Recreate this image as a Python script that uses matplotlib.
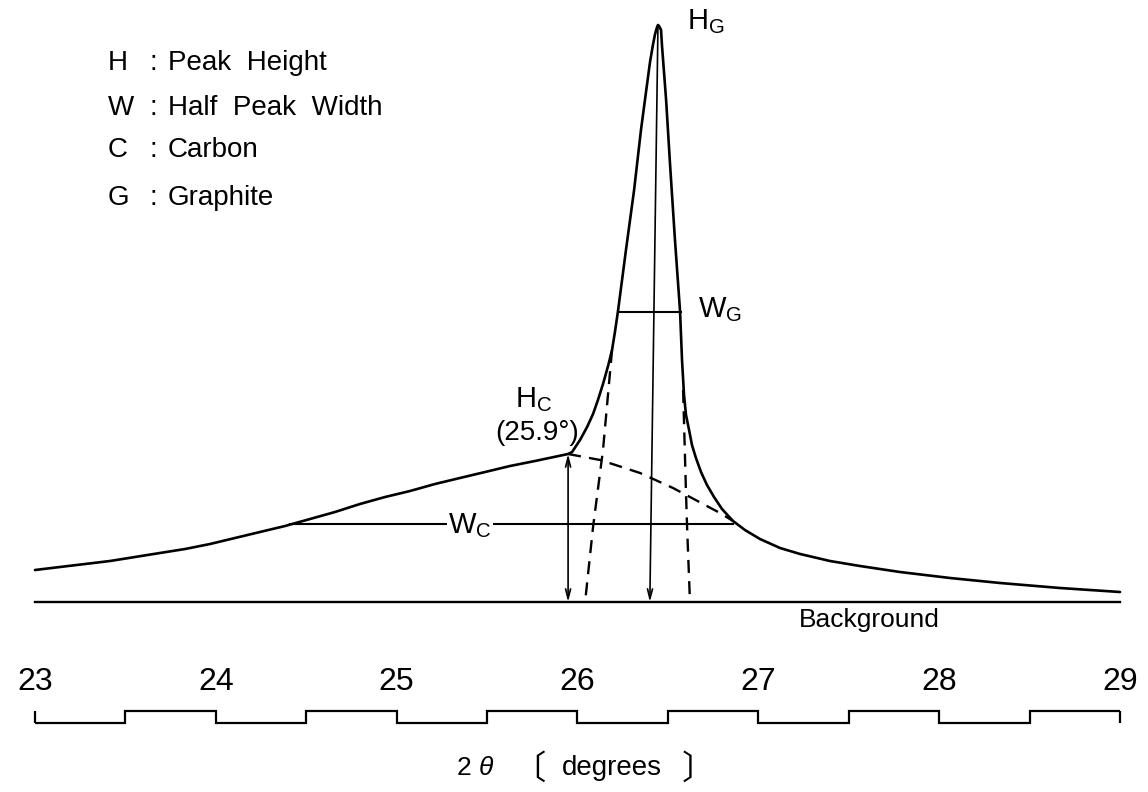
import matplotlib
matplotlib.use("Agg")

import matplotlib.pyplot as plt

plt.rcParams["font.family"] = ["Liberation Sans", "Noto Sans CJK JP", "DejaVu Sans"]
plt.rcParams["mathtext.fontset"] = "custom"
plt.rcParams["mathtext.rm"] = "Liberation Sans"

# measured diffraction profile: 2theta (deg) vs intensity (arb. units, background = 0)
profile_2theta = [23.000, 23.138, 23.277, 23.415, 23.553, 23.691, 23.830, 23.968,
                  24.106, 24.244, 24.383, 24.521, 24.659, 24.797, 24.936, 25.074,
                  25.212, 25.350, 25.489, 25.627, 25.765, 25.948,
                  25.970, 25.992, 26.014, 26.053, 26.086, 26.113, 26.141, 26.169,
                  26.191, 26.207, 26.224, 26.268, 26.313, 26.351, 26.373, 26.401,
                  26.418, 26.429, 26.440, 26.445, 26.451, 26.462, 26.467, 26.490,
                  26.512, 26.539, 26.567, 26.578, 26.589, 26.600, 26.617, 26.633,
                  26.655, 26.683, 26.716, 26.755, 26.799, 26.860, 26.926, 27.009,
                  27.120, 27.231, 27.396, 27.562, 27.783, 28.060, 28.337, 28.668,
                  29.000]
profile_int = [32, 35, 38, 41, 45, 49, 53, 58,
               64, 70, 76, 83, 90, 98, 105, 111,
               118, 124, 130, 136, 141, 148,
               150, 156, 162, 175, 188, 202, 218, 236,
               252, 270, 291, 352, 412, 472, 502, 540,
               558, 568, 575, 577, 576, 572, 557, 502,
               437, 362, 291, 242, 207, 187, 172, 157,
               144, 130, 117, 105, 93, 81, 72, 63,
               54, 48, 41, 36, 30, 24, 19, 14,
               10]

# resolved components (dashed)
carbon_2theta = [25.948, 26.125, 26.346, 26.528, 26.622, 26.788, 26.860]
carbon_int = [148, 142, 129, 114, 105, 89, 81]
graphite_left_2theta = [26.191, 26.141, 26.086, 26.042]
graphite_left_int = [252, 152, 75, 0]
graphite_right_2theta = [26.584, 26.600, 26.606, 26.622]
graphite_right_int = [212, 109, 75, 0]

# peak heights and half widths
hc_2theta, hc_int = 25.948, 148
hg_2theta, hg_int, hg_foot = 26.445, 577, 26.40
wc_from, wc_to, wc_level = 24.410, 26.860, 78
wg_from, wg_to, wg_level = 26.224, 26.572, 290

# 2theta scale
scale_ticks = [23, 24, 25, 26, 27, 28, 29]
scale_edges = [23, 23.5, 24, 24.5, 25, 25.5, 26, 26.5, 27, 27.5, 28, 28.5, 29]
scale_state = [0, 1, 0, 1, 0, 1, 0, 1, 0, 1, 0, 1]

legend_keys = ["H", "W", "C", "G"]
legend_text = ["Peak  Height", "Half  Peak  Width", "Carbon", "Graphite"]

W, H = 1148, 792
fig = plt.figure(figsize=(W / 100, H / 100), dpi=100)
ax = fig.add_axes([0, 0, 1, 1])
ax.set_xlim(22.8065, 29.1548)
ax.set_ylim(-190, 602)
ax.axis("off")

ink = "black"
ax.plot(profile_2theta, profile_int, color=ink, lw=1.9,
        solid_joinstyle="round", solid_capstyle="round")
ax.plot([23, 29], [0, 0], color=ink, lw=1.7)

dash = dict(color=ink, lw=1.7, dashes=(5.5, 3.5))
ax.plot(carbon_2theta, carbon_int, **dash)
ax.plot(graphite_left_2theta, graphite_left_int, **dash)
ax.plot(graphite_right_2theta, graphite_right_int, **dash)

# half widths
ax.plot([wc_from, wc_to], [wc_level, wc_level], color=ink, lw=1.5)
ax.plot([wg_from, wg_to], [wg_level, wg_level], color=ink, lw=1.5)

# peak height arrows
ax.annotate("", xy=(hc_2theta, 0), xytext=(hc_2theta, hc_int),
            arrowprops=dict(arrowstyle="<->,head_length=0.7,head_width=0.18",
                            color=ink, lw=1.2, shrinkA=0, shrinkB=0))
ax.annotate("", xy=(hg_foot, 0), xytext=(hg_2theta, hg_int),
            arrowprops=dict(arrowstyle="->,head_length=0.7,head_width=0.18",
                            color=ink, lw=1.2, shrinkA=0, shrinkB=0))

# labels
def px(x, y):
    return x / W, 1 - y / H

fig.text(*px(687, 22), r"$\mathregular{H_G}$", fontsize=21, va="center")
fig.text(*px(698, 310), r"$\mathregular{W_G}$", fontsize=21, va="center")
fig.text(*px(515, 400), r"$\mathregular{H_C}$", fontsize=21, va="center")
fig.text(*px(537, 433), "(25.9°)", fontsize=20, va="center", ha="center")
fig.text(*px(470, 526), r"$\mathregular{W_C}$", fontsize=21, va="center", ha="center",
         bbox=dict(facecolor="white", edgecolor="none", pad=1))
fig.text(*px(869, 620), "Background", fontsize=19, va="center", ha="center")

for i, (k, t) in enumerate(zip(legend_keys, legend_text)):
    yy = [63, 108, 150, 198][i]
    fig.text(*px(108, yy), k, fontsize=20, va="center")
    fig.text(*px(149, yy), ":", fontsize=20, va="center")
    fig.text(*px(168, yy), t, fontsize=20, va="center")

# scale bar
lo, step = -121, 12
ax.stairs([lo + s * step for s in scale_state], scale_edges, baseline=None,
          color=ink, lw=1.6)
ax.vlines([scale_edges[0], scale_edges[-1]], lo, lo + step, color=ink, lw=1.6)
for t in scale_ticks:
    ax.text(t, -80, str(t), fontsize=23, ha="center", va="center")

fig.text(*px(464, 768), "2", fontsize=19, va="center", ha="center")
fig.text(*px(486, 768), "θ", fontsize=19, va="center", ha="center", style="italic")
fig.text(*px(529, 770), "〔", fontsize=24, va="center", ha="center")
fig.text(*px(612, 768), "degrees", fontsize=20, va="center", ha="center")
fig.text(*px(698, 770), "〕", fontsize=24, va="center", ha="center")

fig.savefig("out.png", dpi=100, facecolor="white")
